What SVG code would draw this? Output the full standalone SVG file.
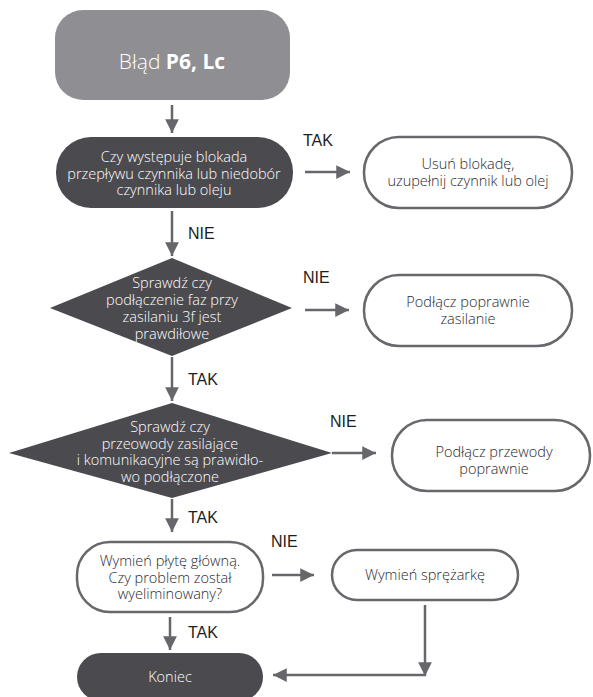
<svg xmlns="http://www.w3.org/2000/svg" width="593" height="697" viewBox="0 0 593 697">
<style>
text{font-family:"Open Sans","Noto Sans","Liberation Sans",sans-serif;font-weight:300;}
.dark{fill:#4b4a4f;}
.light{fill:#8f8e93;}
.box{fill:#ffffff;stroke:#68676c;stroke-width:2.5;}
.wt{fill:#ffffff;font-size:14.5px;text-anchor:middle;}
.bt{fill:#2a2a2e;font-size:14.5px;text-anchor:middle;}
.lbl{fill:#1e1e22;font-size:16px;font-family:"Liberation Sans",sans-serif;font-weight:normal;}
.con{stroke:#67666b;stroke-width:2.5;fill:none;}
</style>
<defs>
<marker id="ah" viewBox="0 0 10 10" refX="10" refY="5" markerWidth="5.5" markerHeight="5.5" markerUnits="strokeWidth" orient="auto">
<path d="M0,0 L10,5 L0,10 Z" fill="#67666b"/>
</marker>
</defs>
<g id="connectors">
<line class="con" x1="172" y1="105" x2="172" y2="133" marker-end="url(#ah)"/>
<line class="con" x1="305" y1="172" x2="350" y2="172" marker-end="url(#ah)"/>
<line class="con" x1="172" y1="211" x2="172" y2="256" marker-end="url(#ah)"/>
<line class="con" x1="305" y1="310" x2="349" y2="310" marker-end="url(#ah)"/>
<line class="con" x1="172" y1="357" x2="172" y2="401" marker-end="url(#ah)"/>
<line class="con" x1="332" y1="453" x2="376" y2="453" marker-end="url(#ah)"/>
<line class="con" x1="172" y1="499" x2="172" y2="532" marker-end="url(#ah)"/>
<line class="con" x1="272" y1="575" x2="314" y2="575" marker-end="url(#ah)"/>
<line class="con" x1="170" y1="617" x2="170" y2="650" marker-end="url(#ah)"/>
<line class="con" x1="425" y1="605" x2="425" y2="676" marker-end="url(#ah)"/>
<line class="con" x1="426" y1="675" x2="273" y2="675" marker-end="url(#ah)"/>
</g>
<g id="labels">
<text class="lbl" x="303" y="146">TAK</text>
<text class="lbl" x="188" y="239">NIE</text>
<text class="lbl" x="303" y="283">NIE</text>
<text class="lbl" x="188" y="385">TAK</text>
<text class="lbl" x="330" y="427">NIE</text>
<text class="lbl" x="188" y="523">TAK</text>
<text class="lbl" x="271" y="547">NIE</text>
<text class="lbl" x="188" y="638">TAK</text>
</g>
<g id="start">
<rect class="light" x="55" y="10" width="235" height="90" rx="28"/>
<text x="172" y="69" fill="#ffffff" font-size="21" text-anchor="middle">Błąd <tspan font-weight="bold">P6, Lc</tspan></text>
</g>
<g id="q1">
<rect class="dark" x="56" y="137" width="237" height="71" rx="35"/>
<text class="wt" x="174" y="162">Czy występuje blokada</text>
<text class="wt" x="174" y="178.5">przepływu czynnika lub niedobór</text>
<text class="wt" x="174" y="195">czynnika lub oleju</text>
</g>
<g id="a1">
<rect class="box" x="364" y="137" width="208" height="71" rx="35"/>
<text class="bt" x="468" y="169">Usuń blokadę,</text>
<text class="bt" x="468" y="186">uzupełnij czynnik lub olej</text>
</g>
<g id="q2">
<polygon class="dark" points="172,258 292,308 172,356 50,308"/>
<text class="wt" x="172" y="288">Sprawdź czy</text>
<text class="wt" x="172" y="305">podłączenie faz przy</text>
<text class="wt" x="172" y="322">zasilaniu 3f jest</text>
<text class="wt" x="172" y="339">prawdiłowe</text>
</g>
<g id="a2">
<rect class="box" x="364" y="275" width="208" height="71" rx="35"/>
<text class="bt" x="468" y="307">Podłącz poprawnie</text>
<text class="bt" x="468" y="324">zasilanie</text>
</g>
<g id="q3">
<polygon class="dark" points="172,403 332,453 172,498 9,453"/>
<text class="wt" x="170" y="432">Sprawdź czy</text>
<text class="wt" x="170" y="448.5">przeowody zasilające</text>
<text class="wt" x="170" y="465">i komunikacyjne są prawidło-</text>
<text class="wt" x="170" y="481.5">wo podłączone</text>
</g>
<g id="a3">
<rect class="box" x="392" y="420" width="198" height="71" rx="35"/>
<text class="bt" x="494" y="457">Podłącz przewody</text>
<text class="bt" x="494" y="474">poprawnie</text>
</g>
<g id="q4">
<rect class="box" x="77" y="542" width="186" height="70" rx="33"/>
<text class="bt" x="170" y="566">Wymień płytę główną.</text>
<text class="bt" x="170" y="582.5">Czy problem został</text>
<text class="bt" x="170" y="599">wyeliminowany?</text>
</g>
<g id="a4">
<rect class="box" x="332" y="550" width="186" height="50" rx="25"/>
<text class="bt" x="425" y="580">Wymień sprężarkę</text>
</g>
<g id="end">
<rect class="dark" x="77" y="653" width="186" height="48" rx="24"/>
<text class="wt" x="170" y="682">Koniec</text>
</g>
</svg>
